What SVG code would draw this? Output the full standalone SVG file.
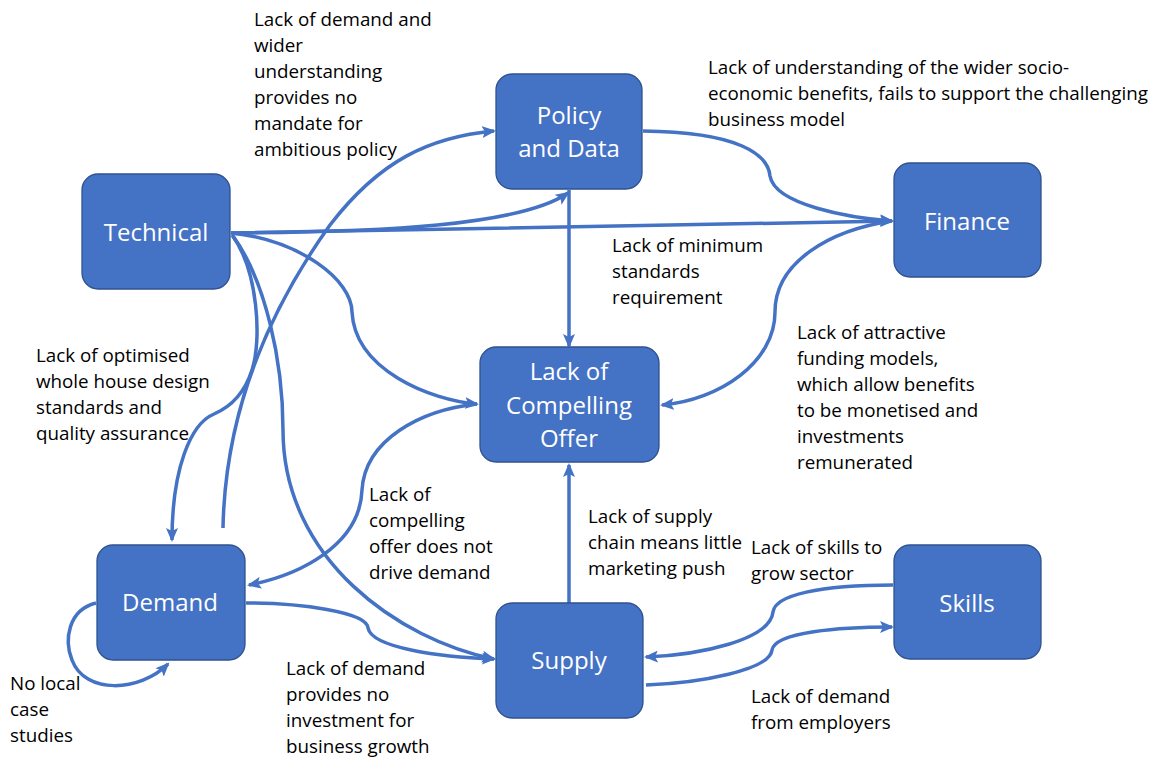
<svg xmlns="http://www.w3.org/2000/svg" width="1158" height="757" viewBox="0 0 1158 757">
<style>
.node rect{fill:#4472C4;stroke:#2F528F;stroke-width:1.3}
.node text{fill:#fff;font-family:"Open Sans","Noto Sans",sans-serif;font-size:24px;text-anchor:middle}
.conn path{fill:none;stroke:#4472C4;stroke-width:3.5}
.lbl{fill:#000;font-family:"Open Sans","Noto Sans",sans-serif;font-size:18.8px}
</style>
<defs>
<marker id="ah" markerUnits="userSpaceOnUse" markerWidth="14" markerHeight="12" refX="12" refY="6" orient="auto">
<path d="M0,0 L14,6 L0,12 L3,6 z" fill="#4472C4"/>
</marker>
</defs>
<rect width="1158" height="757" fill="#fff"/>
<g class="conn">
<path d="M231,233 C 380,232 520,226 568,193" marker-end="url(#ah)"/>
<path d="M231,233 C 450,230 700,223 892,221" marker-end="url(#ah)"/>
<path d="M643,131 C 740,132 768,155 770,176 C 775,205 850,218 892,221" marker-end="url(#ah)"/>
<path d="M892,221 C 830,230 775,262 775,312 C 775,362 720,400 662,405" marker-end="url(#ah)"/>
<path d="M569,190 L569,346" marker-end="url(#ah)"/>
<path d="M231,233 C 300,240 352,280 352,312 C 355,370 430,400 477,404" marker-end="url(#ah)"/>
<path d="M232,235 C 258,270 262,340 252,370 C 244,395 228,408 214,414 C 190,424 172,470 172,540" marker-end="url(#ah)"/>
<path d="M223,528 C 225,420 262,320 330,225 C 380,160 430,137 494,131" marker-end="url(#ah)"/>
<path d="M233,236 C 265,280 283,360 283,430 C 283,560 400,640 494,659" marker-end="url(#ah)"/>
<path d="M246,603 C 300,603 367,612 368,628 C 372,648 440,657 494,659" marker-end="url(#ah)"/>
<path d="M477,404 C 420,410 365,440 362,490 C 360,545 300,575 249,585" marker-end="url(#ah)"/>
<path d="M96,603 C 68,610 64,640 72,660 C 85,695 140,692 168,664" marker-end="url(#ah)"/>
<path d="M569,603 L569,465" marker-end="url(#ah)"/>
<path d="M893,585 C 820,585 775,595 773,612 C 770,640 700,655 646,657" marker-end="url(#ah)"/>
<path d="M646,685 C 700,683 770,670 772,650 C 775,632 840,627 892,627" marker-end="url(#ah)"/>
</g>
<g id="technical" class="node"><rect x="82" y="174" width="148" height="115" rx="16"/><text x="156" y="241">Technical</text></g>
<g id="policy" class="node"><rect x="496" y="74" width="146" height="115" rx="16"/><text x="569" y="124">Policy</text><text x="569" y="157">and Data</text></g>
<g id="finance" class="node"><rect x="894" y="163" width="147" height="114" rx="16"/><text x="967" y="230">Finance</text></g>
<g id="offer" class="node"><rect x="480" y="347" width="179" height="115" rx="16"/><text x="569" y="380">Lack of</text><text x="569" y="414">Compelling</text><text x="569" y="447">Offer</text></g>
<g id="demand" class="node"><rect x="97" y="545" width="148" height="115" rx="16"/><text x="170" y="611">Demand</text></g>
<g id="supply" class="node"><rect x="496" y="603" width="147" height="115" rx="16"/><text x="569" y="669">Supply</text></g>
<g id="skills" class="node"><rect x="894" y="545" width="147" height="114" rx="16"/><text x="967" y="612">Skills</text></g>
<g class="lbl">
<text x="254" y="26">Lack of demand and</text>
<text x="254" y="52">wider</text>
<text x="254" y="78">understanding</text>
<text x="254" y="104">provides no</text>
<text x="254" y="130">mandate for</text>
<text x="254" y="156">ambitious policy</text>
<text x="708" y="74">Lack of understanding of the wider socio-</text>
<text x="708" y="100">economic benefits, fails to support the challenging</text>
<text x="708" y="126">business model</text>
<text x="612" y="252">Lack of minimum</text>
<text x="612" y="278">standards</text>
<text x="612" y="304">requirement</text>
<text x="36" y="362">Lack of optimised</text>
<text x="36" y="388">whole house design</text>
<text x="36" y="414">standards and</text>
<text x="36" y="440">quality assurance</text>
<text x="797" y="339">Lack of attractive</text>
<text x="797" y="365">funding models,</text>
<text x="797" y="391">which allow benefits</text>
<text x="797" y="417">to be monetised and</text>
<text x="797" y="443">investments</text>
<text x="797" y="469">remunerated</text>
<text x="369" y="501">Lack of</text>
<text x="369" y="527">compelling</text>
<text x="369" y="553">offer does not</text>
<text x="369" y="579">drive demand</text>
<text x="588" y="523">Lack of supply</text>
<text x="588" y="549">chain means little</text>
<text x="588" y="575">marketing push</text>
<text x="751" y="554">Lack of skills to</text>
<text x="751" y="580">grow sector</text>
<text x="10" y="690">No local</text>
<text x="10" y="716">case</text>
<text x="10" y="742">studies</text>
<text x="286" y="675">Lack of demand</text>
<text x="286" y="701">provides no</text>
<text x="286" y="727">investment for</text>
<text x="286" y="753">business growth</text>
<text x="751" y="703">Lack of demand</text>
<text x="751" y="729">from employers</text>
</g>
</svg>
